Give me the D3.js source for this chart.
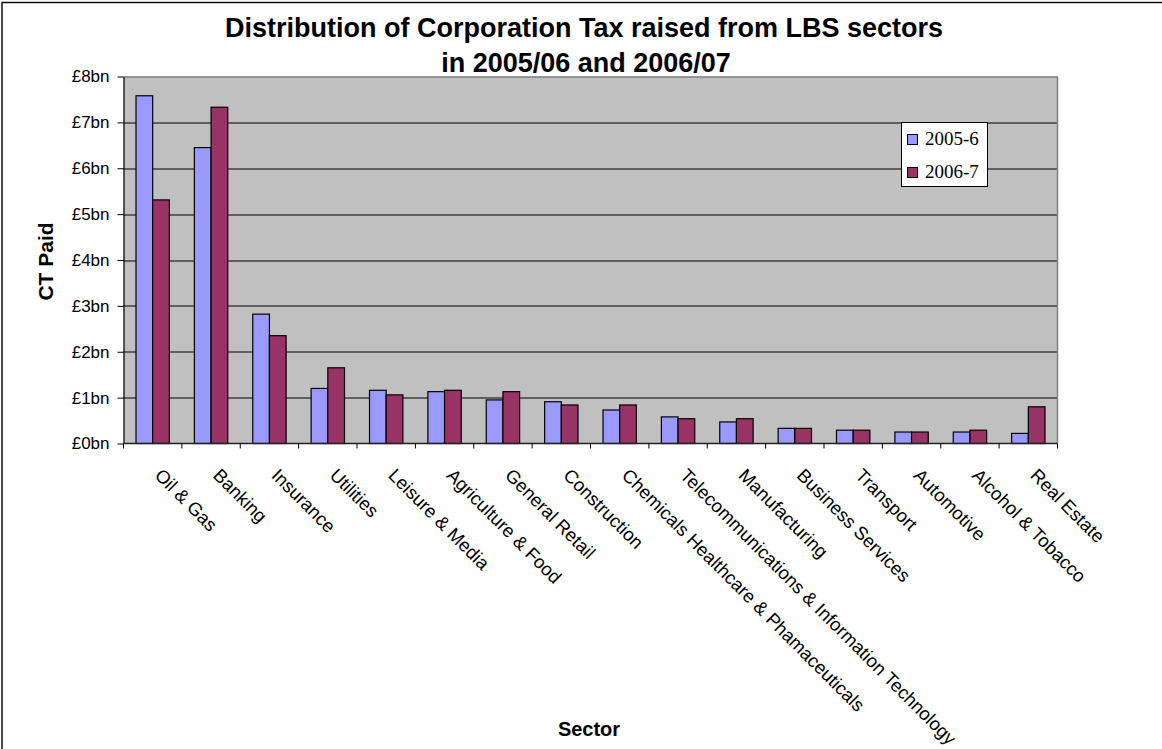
<!DOCTYPE html>
<html>
<head>
<meta charset="utf-8">
<script src="https://cdn.jsdelivr.net/npm/d3@7"></script>
<style>
  body { margin: 0; background: #fff; }
  svg { display: block; font-family: "Liberation Sans", Arial, sans-serif; }
</style>
</head>
<body>
<div id="root"></div>
<script>
const sectors = ["Oil & Gas", "Banking", "Insurance", "Utilities", "Leisure & Media",
  "Agriculture & Food", "General Retail", "Construction",
  "Chemicals Healthcare & Phamaceuticals", "Telecommunications & Information Technology",
  "Manufacturing", "Business Services", "Transport", "Automotive", "Alcohol & Tobacco", "Real Estate"];
const seriesNames = ["2005-6", "2006-7"];
const ct0506 = [7.58, 6.45, 2.82, 1.20, 1.16, 1.13, 0.95, 0.91, 0.73, 0.58, 0.47, 0.33, 0.29, 0.25, 0.25, 0.22];
const ct0607 = [5.31, 7.33, 2.35, 1.65, 1.06, 1.16, 1.13, 0.84, 0.84, 0.54, 0.54, 0.33, 0.29, 0.25, 0.29, 0.80];
const yTicks = [0, 1, 2, 3, 4, 5, 6, 7, 8];
const colors = ["#9999ff", "#993366"];

const W = 1162, H = 749;
const margin = {top: 76.5, right: 1162 - 1057.5, bottom: 749 - 443.5, left: 123.5},
    width = W - margin.left - margin.right,
    height = H - margin.top - margin.bottom;

const root = d3.select("#root").append("svg")
    .attr("width", W)
    .attr("height", H);

// outer frame (only left and top edges are visible in the original)
root.append("path")
    .attr("d", "M2,749 L2,2.5 L1162,2.5")
    .attr("fill", "none")
    .attr("stroke", "#111")
    .attr("stroke-width", 1.5);

// title
const title = root.append("text")
    .attr("text-anchor", "middle")
    .attr("font-weight", "bold")
    .attr("font-size", "27px")
    .attr("fill", "#000");
title.append("tspan").attr("x", 584).attr("y", 37).text("Distribution of Corporation Tax raised from LBS sectors");
title.append("tspan").attr("x", 586).attr("y", 72).text("in 2005/06 and 2006/07");

let svg = root.append("g")
    .attr("transform", "translate(" + margin.left + "," + margin.top + ")");

const data = sectors.map((s, i) => ({sector: s, values: [ct0506[i], ct0607[i]]}));

let x0 = d3.scaleBand()
    .domain(sectors)
    .range([0, width])
    .padding(0);

const bw = x0.bandwidth();
let x1 = d3.scaleBand()
    .domain(seriesNames)
    .range([bw * 0.75 / 3.5, bw * 2.75 / 3.5])
    .padding(0);

let y = d3.scaleLinear()
    .domain([0, 8])
    .range([height, 0]);

// plot background
svg.append("rect")
    .attr("width", width)
    .attr("height", height)
    .attr("fill", "#c0c0c0");

// gridlines
svg.selectAll(".grid")
    .data(yTicks.filter(d => d > 0 && d < 8))
  .enter().append("line")
    .attr("class", "grid")
    .attr("x1", 0)
    .attr("x2", width)
    .attr("y1", d => Math.round(y(d)) + 0.5)
    .attr("y2", d => Math.round(y(d)) + 0.5)
    .attr("stroke", "#000")
    .attr("stroke-width", 1);

// top & right border of plot area
svg.append("path")
    .attr("d", "M0,0.5 L" + width + ",0.5 L" + width + "," + height)
    .attr("fill", "none")
    .attr("stroke", "#808080")
    .attr("stroke-width", 1.5);

// bars
const groups = svg.selectAll(".group")
    .data(data)
  .enter().append("g")
    .attr("class", "group")
    .attr("transform", d => "translate(" + x0(d.sector) + ",0)");

groups.selectAll("rect")
    .data(d => d.values.map((v, i) => ({key: seriesNames[i], value: v, i: i})))
  .enter().append("rect")
    .attr("x", d => x1(d.key))
    .attr("y", d => y(d.value))
    .attr("width", x1.bandwidth())
    .attr("height", d => height - y(d.value))
    .attr("fill", d => colors[d.i])
    .attr("stroke", "#000")
    .attr("stroke-width", 1.2);

// y axis
let yAxis = d3.axisLeft(y)
    .tickValues(yTicks)
    .tickFormat(d => "£" + d + "bn")
    .tickSize(6)
    .tickSizeOuter(0)
    .tickPadding(8);

const gy = svg.append("g").call(yAxis);
gy.select(".domain").attr("stroke", "#000").attr("stroke-width", 1.2);
gy.selectAll(".tick line").attr("stroke", "#000");
gy.selectAll(".tick text")
    .attr("font-size", "17px")
    .attr("font-family", "'Liberation Sans', Arial, sans-serif")
    .attr("fill", "#000");

// x axis: ticks at category boundaries
const boundaries = d3.range(sectors.length + 1).map(i => i * bw);
svg.append("line")
    .attr("x1", 0).attr("x2", width)
    .attr("y1", height).attr("y2", height)
    .attr("stroke", "#222")
    .attr("stroke-width", 1.5);
svg.selectAll(".xtick")
    .data(boundaries)
  .enter().append("line")
    .attr("class", "xtick")
    .attr("x1", d => d).attr("x2", d => d)
    .attr("y1", height).attr("y2", height + 5)
    .attr("stroke", "#000");

svg.selectAll(".xlabel")
    .data(sectors)
  .enter().append("text")
    .attr("class", "xlabel")
    .attr("transform", d => "translate(" + (x0(d) + bw / 2 + 1) + "," + (height + 33) + ") rotate(45)")
    .attr("font-size", "18.5px")
    .attr("fill", "#000")
    .text(d => d);

// axis titles
root.append("text")
    .attr("transform", "translate(53,261.5) rotate(-90)")
    .attr("text-anchor", "middle")
    .attr("font-weight", "bold")
    .attr("font-size", "21px")
    .text("CT Paid");

root.append("text")
    .attr("x", 589)
    .attr("y", 736)
    .attr("text-anchor", "middle")
    .attr("font-weight", "bold")
    .attr("font-size", "20px")
    .text("Sector");

// legend
const legend = root.append("g")
    .attr("transform", "translate(901.5,122.5)");
legend.append("rect")
    .attr("width", 86)
    .attr("height", 64)
    .attr("fill", "#fff")
    .attr("stroke", "#000");

const items = legend.selectAll(".legend")
    .data(seriesNames)
  .enter().append("g")
    .attr("class", "legend")
    .attr("transform", (d, i) => "translate(0," + (i * 33) + ")");

items.append("rect")
    .attr("x", 6)
    .attr("y", 12)
    .attr("width", 10)
    .attr("height", 10)
    .attr("fill", (d, i) => colors[i])
    .attr("stroke", "#000");

items.append("text")
    .attr("x", 23.5)
    .attr("y", 22.5)
    .attr("font-family", "'Liberation Serif', 'Times New Roman', serif")
    .attr("font-size", "19px")
    .text(d => d);
</script>
</body>
</html>
